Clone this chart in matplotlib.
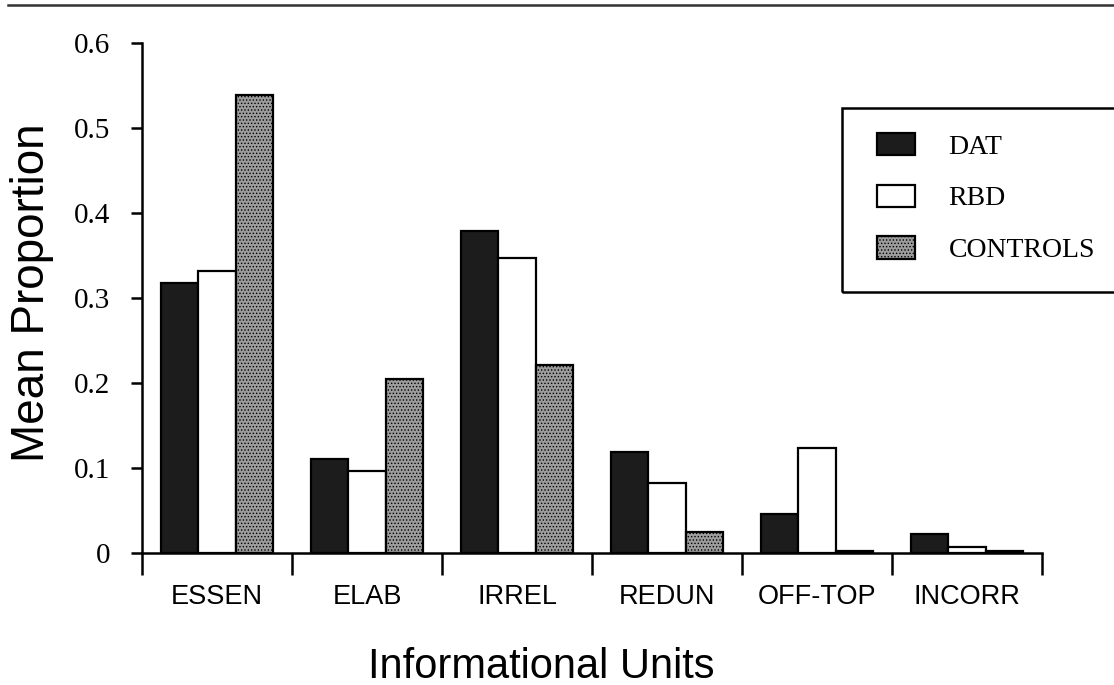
import numpy as np
import matplotlib
matplotlib.use('Agg')
import matplotlib.pyplot as plt
from matplotlib.lines import Line2D
from matplotlib.patches import Rectangle

# Dati
categories = ['ESSEN', 'ELAB', 'IRREL', 'REDUN', 'OFF-TOP', 'INCORR']
dat = [0.318, 0.111, 0.379, 0.119, 0.046, 0.022]
rbd = [0.332, 0.096, 0.347, 0.082, 0.124, 0.007]
controls = [0.539, 0.205, 0.221, 0.025, 0.002, 0.002]
yticks = [0, 0.1, 0.2, 0.3, 0.4, 0.5, 0.6]
ytick_labels = ['0', '0.1', '0.2', '0.3', '0.4', '0.5', '0.6']

plt.rcParams['hatch.linewidth'] = 0.6
plt.rcParams['hatch.color'] = '#4a4a4a'

fig = plt.figure(figsize=(11.14, 6.85), dpi=100)
ax = fig.add_axes([142 / 1114, 1 - 553 / 685, 900 / 1114, 510 / 685])

x = np.arange(len(categories))
w = 0.25
ax.bar(x - w, dat, w, color='#1c1c1c', edgecolor='black', linewidth=1.6, label='DAT')
ax.bar(x, rbd, w, color='white', edgecolor='black', linewidth=1.6, label='RBD')
ax.bar(x + w, controls, w, color='#9c9c9c', edgecolor='black', linewidth=1.6,
       hatch='.....', label='CONTROLS')

ax.set_xlim(-0.5, len(categories) - 0.5)
ax.set_ylim(0, 0.6)

# assi
for s in ['top', 'right']:
    ax.spines[s].set_visible(False)
ax.spines['left'].set_linewidth(1.8)
ax.spines['bottom'].set_linewidth(1.8)

ax.set_yticks(yticks)
ax.set_yticklabels(ytick_labels, fontfamily='Liberation Serif', fontsize=21)
ax.tick_params(axis='y', direction='out', length=8, width=1.8, pad=15)

ax.set_xticks(np.arange(len(categories) + 1) - 0.5)
ax.set_xticklabels([])
ax.tick_params(axis='x', which='major', direction='out', length=16, width=1.8)
ax.set_xticks(x, minor=True)
ax.set_xticklabels(categories, minor=True, fontfamily='Liberation Sans', fontsize=19.5)
ax.tick_params(axis='x', which='minor', length=0, pad=22)

ax.set_ylabel('Mean Proportion', fontfamily='Liberation Sans', fontsize=33)
ax.yaxis.set_label_coords(-0.098, 0.51)
ax.set_xlabel('Informational Units', fontfamily='Liberation Sans', fontsize=30, va='baseline')
ax.xaxis.set_label_coords(0.444, -0.245)

# legenda senza cornice + cornice disegnata a mano (esce dal bordo destro)
leg = fig.legend(loc='upper left', bbox_to_anchor=(877 / 1114, 1 - 133 / 685),
                 prop={'family': 'Liberation Serif', 'size': 20},
                 frameon=False, borderpad=0, borderaxespad=0,
                 labelspacing=0.9, handlelength=1.37, handleheight=0.85,
                 handletextpad=1.2)
fig.add_artist(Rectangle((842 / 1114, 1 - 292 / 685), 290 / 1114, 184 / 685,
                         transform=fig.transFigure, facecolor='none',
                         edgecolor='black', linewidth=1.8))

# linea in alto della pagina
fig.add_artist(Line2D([8 / 1114, 1], [1 - 5 / 685, 1 - 5 / 685], color='#333333', linewidth=1.8))

fig.savefig('out.png', dpi=100)
